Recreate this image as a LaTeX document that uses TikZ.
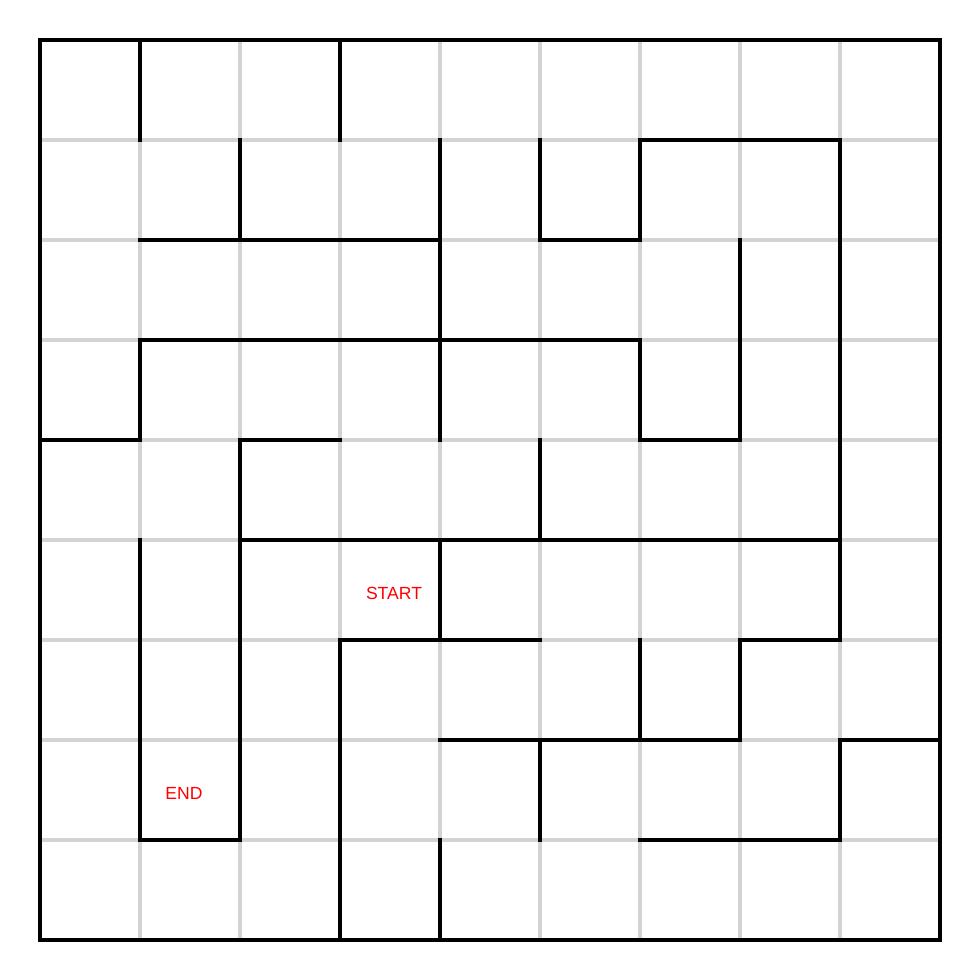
\documentclass[tikz,border=0pt]{standalone}
\usepackage{fontspec}
\setmainfont{Liberation Sans}
\definecolor{gridgray}{HTML}{D3D3D3}
\definecolor{labelred}{HTML}{FF0000}
\begin{document}
\begin{tikzpicture}[cell/.style={draw=gridgray, line width=1.1pt}]
  \tikzset{wall/.style={draw=black, line width=1.1pt, line cap=rect, line join=miter}}
  \tikzset{tag/.style={font=\fontsize{5}{6}\selectfont, text=labelred, inner sep=0pt}}
  \useasboundingbox (-0.4,-0.4) rectangle (9.4,9.4);
  % grid
  \draw[cell] (0,0) grid (9,9);
  % walls
  \draw[wall] (0,0) rectangle (9,9);
  \draw[wall] (1,9) -- (1,8);
  \draw[wall] (3,9) -- (3,8);
  \draw[wall] (2,8) -- (2,7);
  \draw[wall] (1,7) -- (4,7);
  \draw[wall] (4,8) -- (4,5);
  \draw[wall] (0,5) -- (1,5) -- (1,6) -- (6,6) -- (6,5) -- (7,5) -- (7,7);
  \draw[wall] (5,8) -- (5,7) -- (6,7) -- (6,8) -- (8,8) -- (8,3) -- (7,3) -- (7,2) -- (4,2);
  \draw[wall] (1,4) -- (1,1) -- (2,1) -- (2,5) -- (3,5);
  \draw[wall] (2,4) -- (8,4);
  \draw[wall] (4,4) -- (4,3);
  \draw[wall] (5,5) -- (5,4);
  \draw[wall] (3,0) -- (3,3) -- (5,3);
  \draw[wall] (6,3) -- (6,2);
  \draw[wall] (5,2) -- (5,1);
  \draw[wall] (4,1) -- (4,0);
  \draw[wall] (6,1) -- (8,1) -- (8,2) -- (9,2);
  % labels
  \node[tag] (start) at (3.54,3.47) {START};
  \node[tag] (end) at (1.44,1.47) {END};
\end{tikzpicture}
\end{document}
